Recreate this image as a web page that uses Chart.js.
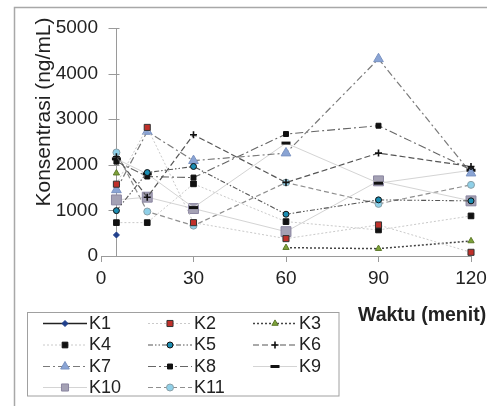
<!DOCTYPE html>
<html><head><meta charset="utf-8">
<style>
html,body{margin:0;padding:0;overflow:hidden;background:#fff;width:487px;height:406px}
#wrap{position:absolute;left:0;top:0;width:530px;height:406px}
</style>
<script src="https://cdn.jsdelivr.net/npm/chart.js@4.4.1/dist/chart.umd.min.js"></script>
</head><body><div id="wrap"><canvas id="c" width="530" height="406"></canvas></div>
<script>
// ---- data ----
const times = [5, 15, 30, 60, 90, 120];
const seriesNames = ['K1','K2','K3','K4','K5','K6','K7','K8','K9','K10','K11'];
const K1  = [461, null, null, null, null, null];
const K2  = [1575, 2820, 732, 381, 681, 81];
const K3  = [1817, null, null, 183, 161, 330];
const K4  = [732, 732, 1582, 754, 571, 879];
const K5  = [995, 1830, 1963, 916, 1231, 1209];
const K6  = [2175, 1290, 2660, 1611, 2257, 1963];
const K7  = [1450, 2730, 2090, 2257, 4323, 1817];
const K8  = [2070, 1743, 1720, 2675, 2857, 1890];
const K9  = [2130, 1800, 1062, 2476, 1597, 1880];
const K10 = [1230, 1290, 1040, 534, 1648, 1209];
const K11 = [2270, 975, 666, 1611, 1143, 1560];
const seriesValues = [K1,K2,K3,K4,K5,K6,K7,K8,K9,K10,K11];
const xTickValues = [0, 30, 60, 90, 120];
const yTickValues = [0, 1000, 2000, 3000, 4000, 5000];
const xTitle = 'Waktu (menit)';
const yTitle = 'Konsentrasi (ng/mL)';

// ---- styles ----
const styles = [
 {line:'#222', dash:[], w:1.5, ps:'rectRot', r:3, fill:'#1f3f8c', bc:'#1f3f8c', bw:1},
 {line:'#cacaca', dash:[2,2], w:1, ps:'rect', r:4.3, fill:'#c0302a', bc:'#333', bw:1},
 {line:'#444', dash:[2,2], w:1.5, ps:'triangle', r:3.6, fill:'#7ea33a', bc:'#5d7a2a', bw:1},
 {line:'#cacaca', dash:[2,2], w:1, ps:'rect', r:4, fill:'#111', bc:'#111', bw:1},
 {line:'#555', dash:[5,2,1.5,2,1.5,2], w:1.1, ps:'circle', r:3, fill:'#1b8db2', bc:'#111', bw:1},
 {line:'#555', dash:[6,3], w:1.2, ps:'cross', r:3.5, fill:'#111', bc:'#111', bw:1.6},
 {line:'#7a7a7a', dash:[7,3,2,3], w:1.2, ps:'triangle', r:5.6, fill:'#8aa4d4', bc:'#7b93c2', bw:1},
 {line:'#666', dash:[8,3,2,3], w:1.1, ps:'rect', r:3.5, fill:'#111', bc:'#111', bw:1},
 {line:'#d4d4d4', dash:[], w:1, ps:'line', r:4.5, fill:'#111', bc:'#111', bw:3},
 {line:'#d4d4d4', dash:[], w:1, ps:'rect', r:7, fill:'#a4a1b4', bc:'#8a85a0', bw:1},
 {line:'#8f8f8f', dash:[5,3], w:1.2, ps:'circle', r:3.5, fill:'#8fd0e8', bc:'#8aa0a8', bw:1}
];

const FONT = "'Liberation Sans', Arial, sans-serif";

const datasets = seriesNames.map((name, i) => ({
  label: name,
  data: times.map((t, j) => ({x: t, y: seriesValues[i][j]})),
  borderColor: styles[i].line,
  borderDash: styles[i].dash,
  borderWidth: styles[i].w,
  pointStyle: styles[i].ps,
  pointRadius: styles[i].r,
  pointHoverRadius: styles[i].r,
  pointBackgroundColor: styles[i].fill,
  pointBorderColor: styles[i].bc,
  pointBorderWidth: styles[i].bw,
  fill: false,
  tension: 0,
  spanGaps: false,
  clip: false
}));

const decor = {
  id: 'decor',
  beforeDraw(chart) {
    const ctx = chart.ctx;
    ctx.save();
    ctx.fillStyle = '#fff';
    ctx.fillRect(0, 0, chart.width, chart.height);
    ctx.strokeStyle = '#a8a8a8';
    ctx.lineWidth = 1.5;
    ctx.strokeRect(14.5, 7.5, 700, 500);
    ctx.restore();
  },
  beforeDatasetsDraw(chart) {
    const ctx = chart.ctx, xs = chart.scales.x, ys = chart.scales.y;
    const ax = Math.round(xs.getPixelForValue(times[0])) + 0.5;
    ctx.save();
    ctx.strokeStyle = '#9a9a9a';
    ctx.lineWidth = 1;
    ctx.beginPath();
    ctx.moveTo(ax, ys.getPixelForValue(0));
    ctx.lineTo(ax, ys.getPixelForValue(yTickValues[yTickValues.length-1]));
    yTickValues.forEach(v => {
      const py = Math.round(ys.getPixelForValue(v)) + 0.5;
      ctx.moveTo(ax - 8, py);
      ctx.lineTo(ax + 3, py);
    });
    ctx.stroke();
    ctx.restore();
  },
  afterDraw(chart) {
    const ctx = chart.ctx;
    ctx.save();
    ctx.fillStyle = '#222';
    ctx.font = '21px ' + FONT;
    ctx.textAlign = 'center';
    ctx.textBaseline = 'alphabetic';
    ctx.translate(50, 112);
    ctx.rotate(-Math.PI / 2);
    ctx.fillText(yTitle, 0, 0);
    ctx.restore();
    ctx.save();
    ctx.fillStyle = '#222';
    ctx.font = 'bold 19.5px ' + FONT;
    ctx.textAlign = 'left';
    ctx.textBaseline = 'alphabetic';
    ctx.fillText(xTitle, 358, 320.5);
    ctx.restore();
    ctx.save();
    ctx.strokeStyle = '#a0a0a0';
    ctx.lineWidth = 1;
    ctx.strokeRect(27.5, 312.5, 311.5, 83.5);
    const colX = [43, 148, 253];
    const rowY = [323, 344.5, 366, 387];
    chart.data.datasets.forEach((ds, i) => {
      const c = i % 3, r = Math.floor(i / 3);
      const x0 = colX[c], y0 = rowY[r];
      ctx.save();
      ctx.strokeStyle = ds.borderColor;
      ctx.lineWidth = ds.borderWidth;
      ctx.setLineDash(ds.borderDash);
      ctx.beginPath();
      ctx.moveTo(x0, y0 + 0.5);
      ctx.lineTo(x0 + 44, y0 + 0.5);
      ctx.stroke();
      ctx.setLineDash([]);
      ctx.fillStyle = ds.pointBackgroundColor;
      ctx.strokeStyle = ds.pointBorderColor;
      ctx.lineWidth = ds.pointBorderWidth;
      Chart.helpers.drawPoint(ctx, {pointStyle: ds.pointStyle, radius: Math.min(ds.pointRadius, 5), borderWidth: ds.pointBorderWidth, rotation: 0}, x0 + 22, y0 + 0.5);
      ctx.restore();
      ctx.fillStyle = '#222';
      ctx.font = '18px ' + FONT;
      ctx.textAlign = 'left';
      ctx.textBaseline = 'middle';
      ctx.fillText(ds.label, x0 + 46, y0 + 1);
    });
    ctx.restore();
  }
};

new Chart(document.getElementById('c'), {
  type: 'line',
  data: { datasets },
  options: {
    responsive: false,
    animation: false,
    devicePixelRatio: 1,
    layout: { padding: { left: 0, right: 59, top: 28, bottom: 116 } },
    plugins: { legend: { display: false }, tooltip: { enabled: false } },
    scales: {
      x: {
        type: 'linear', min: 0, max: 120,
        afterBuildTicks(s) { s.ticks = xTickValues.map(v => ({value: v})); },
        afterFit(s) { s.height = 34; },
        grid: { drawOnChartArea: false, drawTicks: true, tickLength: 6, tickColor: '#9a9a9a' },
        border: { display: true, color: '#9a9a9a', width: 1 },
        ticks: { font: { size: 19, family: FONT }, color: '#222', padding: 5, maxRotation: 0, callback: v => String(v) }
      },
      y: {
        type: 'linear', min: 0, max: 5000,
        afterBuildTicks(s) { s.ticks = yTickValues.map(v => ({value: v})); },
        afterFit(s) { s.width = 101; },
        grid: { display: false, drawTicks: false },
        border: { display: false },
        ticks: { font: { size: 19, family: FONT }, color: '#222', padding: 3, callback: v => String(v) }
      }
    }
  },
  plugins: [decor]
});
</script></body></html>
